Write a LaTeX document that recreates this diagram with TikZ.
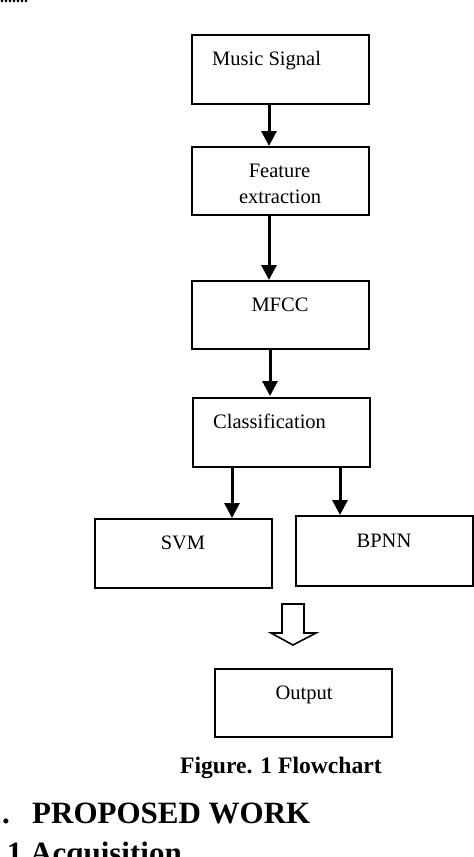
\documentclass[tikz,border=0pt]{standalone}
\usepackage{fontspec}
\setmainfont{Liberation Serif}
\usetikzlibrary{arrows.meta}
\begin{document}
\begin{tikzpicture}[x=1pt,y=-1pt,
  box/.style={draw=black,line width=2pt,rectangle,minimum width=177pt,inner sep=0pt},
  lbl/.style={inner sep=0pt,font=\fontsize{20.5}{24}\selectfont},
  arr/.style={draw=black,line width=3pt,-{Triangle[length=15pt,width=15pt]},shorten >=0pt},
  hollow/.style={draw=black,line width=1.6pt,fill=white,line join=miter}]
\useasboundingbox (0,0) rectangle (474,857);
\clip (0,0) rectangle (474,857);
% boxes
\node[box,minimum height=69pt] (music) at (280.5,69.5) {};
\node[box,minimum height=68pt] (feat) at (280.5,181) {};
\node[box,minimum height=68pt] (mfcc) at (280.5,315) {};
\node[box,minimum height=69pt] (class) at (281.5,432.5) {};
\node[box,minimum height=69pt] (svm) at (183.5,553.5) {};
\node[box,minimum height=70pt] (bpnn) at (384.5,551) {};
\node[box,minimum height=68pt] (output) at (303.5,703) {};
% labels
\node[lbl,anchor=base west] (tmusic) at (212,65) {Music Signal};
\node[lbl,anchor=base] (tfeat1) at (279.5,177) {Feature};
\node[lbl,anchor=base] (tfeat2) at (280,203) {extraction};
\node[lbl,anchor=base] (tmfcc) at (280,311) {MFCC};
\node[lbl,anchor=base west] (tclass) at (213,428) {Classification};
\node[lbl,anchor=base] (tsvm) at (183,549) {SVM};
\node[lbl,anchor=base] (tbpnn) at (384,547) {BPNN};
\node[lbl,anchor=base] (toutput) at (304,699) {Output};
% arrows
\draw[arr] ([xshift=-11.5pt]music.south) -- ([xshift=-11.5pt]feat.north);
\draw[arr] ([xshift=-11.5pt]feat.south) -- ([xshift=-11.5pt]mfcc.north);
\draw[arr] ([xshift=-10.5pt]mfcc.south) -- ([xshift=-11.5pt,yshift=1pt]class.north);
\draw[arr] ([xshift=-49.5pt]class.south) -- ([xshift=48.5pt]svm.north);
\draw[arr] ([xshift=58.5pt]class.south) -- ([xshift=-44.5pt]bpnn.north);
% hollow arrow
\coordinate (ha) at (293,645);
\draw[hollow] (282,604) -- (304,604) -- (304,633) -- (316,633) -- (ha) -- (271,633) -- (282,633) -- cycle;
% captions and text
\node[inner sep=0pt,anchor=base west,font=\fontsize{23.6}{28}\selectfont\bfseries] (cap) at (180,773) {Figure. 1 Flowchart};
\node[inner sep=0pt,anchor=base west,font=\fontsize{31}{36}\selectfont\bfseries] (dot) at (2,823) {.};
\node[inner sep=0pt,anchor=base west,font=\fontsize{31}{36}\selectfont\bfseries] (sec) at (32,823) {PROPOSED WORK};
\node[inner sep=0pt,anchor=base west,font=\fontsize{31}{36}\selectfont\bfseries] (sub) at (-1,863) {.1 Acquisition};
\node[inner sep=0pt,anchor=base west,font=\fontsize{16}{18}\selectfont\bfseries] (dots) at (0,2.5) {.......};
\end{tikzpicture}
\end{document}
